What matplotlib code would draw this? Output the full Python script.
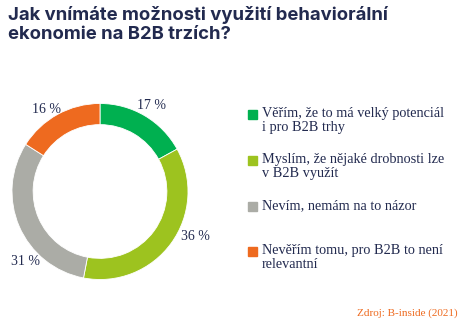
import matplotlib.pyplot as plt
from matplotlib.patches import Rectangle

# data
labels = ['Věřím, že to má velký potenciál\ni pro B2B trhy',
          'Myslím, že nějaké drobnosti lze\nv B2B využít',
          'Nevím, nemám na to názor',
          'Nevěřím tomu, pro B2B to není\nrelevantní']
values = [17, 36, 31, 16]
colors = ['#00b050', '#9dc31f', '#abaca6', '#ee6a1f']

title = 'Jak vnímáte možnosti využití behaviorální\nekonomie na B2B trzích?'
source = 'Zdroj: B-inside (2021)'
navy = '#222a4f'

# layout (pixels in a 472x332 picture)
W, H = 472, 332
lbl_pos = [(0.59, 0.98), (1.09, -0.51), (-0.85, -0.79), (-0.61, 0.93)]
leg_y = [115, 161, 207, 252]

fig = plt.figure(figsize=(W / 100, H / 100), dpi=100)

fig.text(8 / W, 1 - 6 / H, title, ha='left', va='top', fontsize=13.3,
         fontweight='bold', family='Inter', color=navy, linespacing=1.15)

# donut
cx, cy, r = 100, 191.5, 88
ax = fig.add_axes([(cx - r) / W, 1 - (cy + r) / H, 2 * r / W, 2 * r / H])
ax.pie(values, colors=colors, startangle=90, counterclock=False,
       wedgeprops=dict(width=0.24, edgecolor='white', linewidth=0.6))
ax.set_xlim(-1, 1)
ax.set_ylim(-1, 1)
ax.set_aspect('equal')
ax.axis('off')
for v, (x, y) in zip(values, lbl_pos):
    ax.text(x, y, f'{v} %', ha='center', va='center', fontsize=10,
            family='Liberation Serif', color=navy)

# legend
for lab, c, y in zip(labels, colors, leg_y):
    fig.patches.append(Rectangle((248 / W, 1 - (y + 4) / H), 9 / W, 9 / H,
                                 transform=fig.transFigure, color=c))
    fig.text(262 / W, 1 - (y - 8) / H, lab, ha='left', va='top', fontsize=10.3,
             family='Liberation Serif', color=navy, linespacing=1.15)

fig.text(458 / W, 1 - 313 / H, source, ha='right', va='center', fontsize=8,
         family='Liberation Serif', color='#ee6a1f')

fig.savefig('out.png', dpi=100)
